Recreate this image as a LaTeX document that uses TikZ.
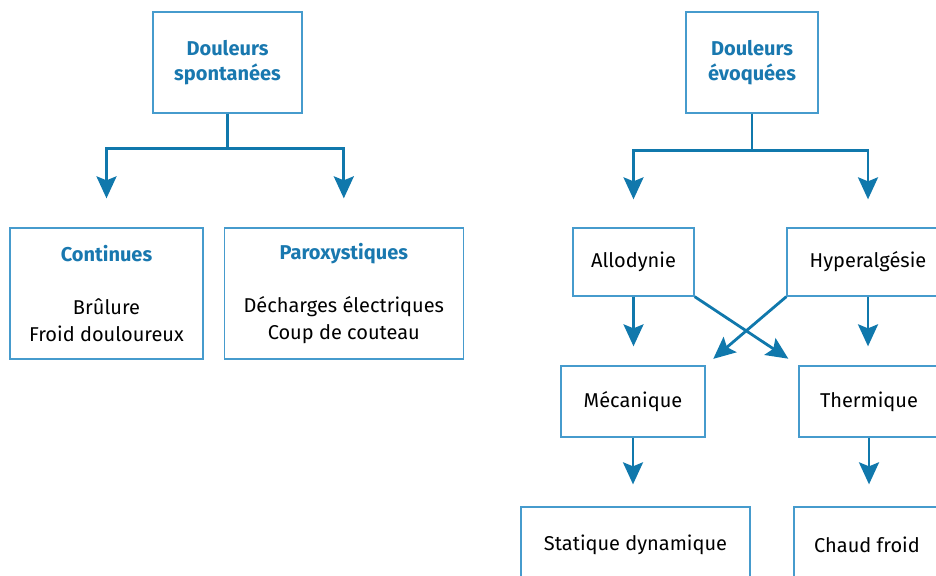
\documentclass[tikz,border=0pt]{standalone}
\usepackage{fontspec}
\setmainfont{Fira Sans}
\usepackage{tikz}
\usetikzlibrary{positioning, arrows.meta}

\definecolor{boxblue}{RGB}{70,155,205}
\definecolor{arrowblue}{RGB}{16,120,172}
\definecolor{titleblue}{RGB}{25,120,175}

\begin{document}
\begin{tikzpicture}[
    x=1pt, y=-1pt,
    font=\fontsize{20}{27}\selectfont,
    every node/.style={align=center, inner sep=0pt},
    box/.style={draw=boxblue, line width=1.3pt},
    titre/.style={box, font=\fontsize{20}{25}\selectfont\bfseries, text=titleblue},
    fleche/.style={draw=arrowblue, line width=2.8pt, -{Stealth[length=22pt, width=20pt, inset=4pt]}},
]
  \useasboundingbox (0,0) rectangle (936,575);
  \clip (0,0) rectangle (936,575);

  % douleurs spontanees
  \node[titre, minimum width=149pt, minimum height=101pt] (spont) at (227.5,62.5) {Douleurs\\spontanées};
  \node[box, minimum width=193pt, minimum height=131pt] (cont) at (106.5,293.5)
    {{\bfseries\color{titleblue}Continues}\\[26pt]Brûlure\\Froid douloureux};
  \node[box, minimum width=239pt, minimum height=131pt, right=20pt of cont] (parox)
    {{\bfseries\color{titleblue}Paroxystiques}\\[26pt]Décharges électriques\\Coup de couteau};

  % douleurs evoquees
  \node[titre, minimum width=132pt, minimum height=101pt] (evoq) at (752,62.5) {Douleurs\\évoquées};
  \node[box, minimum width=121pt, minimum height=68pt] (allo) at (633.5,262) {Allodynie};
  \node[box, minimum width=162pt, minimum height=68pt] (hyper) at (868,262) {Hyperalgésie};
  \node[box, minimum width=144pt, minimum height=71pt] (meca) at (633,401.5) {Mécanique};
  \node[box, minimum width=140pt, minimum height=71pt] (therm) at (869,401.5) {Thermique};
  \node[box, minimum width=229pt, minimum height=76pt] (stat) at (635.5,545) {Statique dynamique};
  \node[box, minimum width=146pt, minimum height=76pt] (chaud) at (867,545) {Chaud froid};

  \draw[fleche, shorten >=29pt] (spont.south) -- ++(0,35) -| (cont.north);
  \draw[fleche, shorten >=29pt] (spont.south) -- ++(0,35) -| (parox.north);
  \draw[fleche, shorten >=28pt] (evoq.south) -- ++(0,37) -| (allo.north);
  \draw[fleche, shorten >=28pt] (evoq.south) -- ++(0,37) -| (hyper.north);

  \draw[fleche, shorten >=19pt] (allo.south) -- (allo.south |- meca.north);
  \draw[fleche, shorten >=19pt] (hyper.south) -- (hyper.south |- therm.north);
  \draw[fleche, shorten >=12pt] (allo.south east) -- (therm.north west);
  \draw[fleche, shorten >=10pt] (hyper.south west) -- (meca.north east);

  \draw[fleche, shorten >=22pt] (meca.south) -- (meca.south |- stat.north);
  \draw[fleche, shorten >=22pt] (therm.south) -- (therm.south |- chaud.north);
\end{tikzpicture}
\end{document}
